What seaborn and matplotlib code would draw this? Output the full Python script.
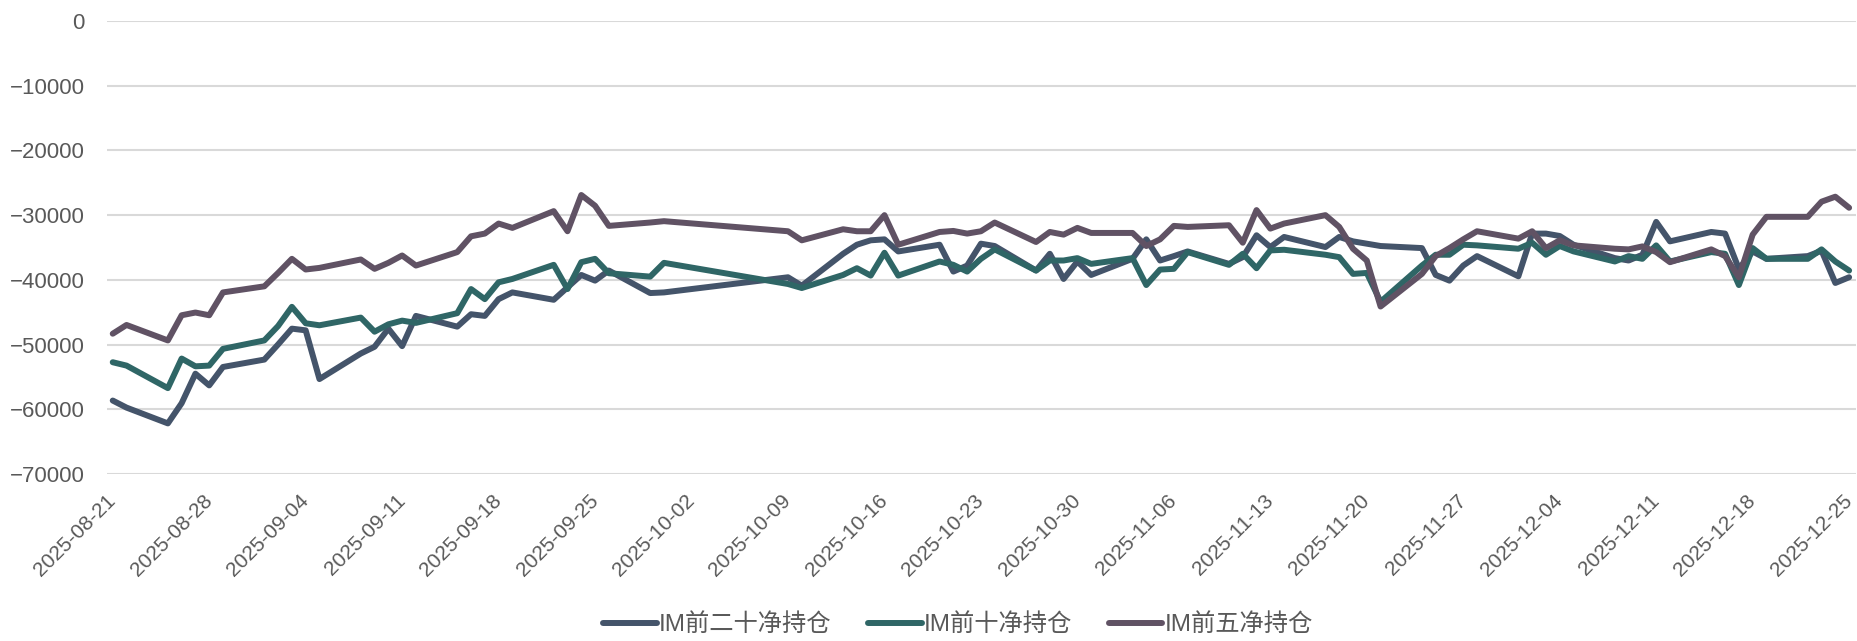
import pandas as pd
import numpy as np
import matplotlib.pyplot as plt
import matplotlib.dates as mdates
import seaborn as sns

# 交易日
dates = ["2025-08-21", "2025-08-22", "2025-08-25", "2025-08-26", "2025-08-27", "2025-08-28", "2025-08-29",
         "2025-09-01", "2025-09-02", "2025-09-03", "2025-09-04", "2025-09-05",
         "2025-09-08", "2025-09-09", "2025-09-10", "2025-09-11", "2025-09-12",
         "2025-09-15", "2025-09-16", "2025-09-17", "2025-09-18", "2025-09-19",
         "2025-09-22", "2025-09-23", "2025-09-24", "2025-09-25", "2025-09-26",
         "2025-09-29", "2025-09-30", "2025-10-09", "2025-10-10",
         "2025-10-13", "2025-10-14", "2025-10-15", "2025-10-16", "2025-10-17",
         "2025-10-20", "2025-10-21", "2025-10-22", "2025-10-23", "2025-10-24",
         "2025-10-27", "2025-10-28", "2025-10-29", "2025-10-30", "2025-10-31",
         "2025-11-03", "2025-11-04", "2025-11-05", "2025-11-06", "2025-11-07",
         "2025-11-10", "2025-11-11", "2025-11-12", "2025-11-13", "2025-11-14",
         "2025-11-17", "2025-11-18", "2025-11-19", "2025-11-20", "2025-11-21",
         "2025-11-24", "2025-11-25", "2025-11-26", "2025-11-27", "2025-11-28",
         "2025-12-01", "2025-12-02", "2025-12-03", "2025-12-04", "2025-12-05",
         "2025-12-08", "2025-12-09", "2025-12-10", "2025-12-11", "2025-12-12",
         "2025-12-15", "2025-12-16", "2025-12-17", "2025-12-18", "2025-12-19",
         "2025-12-22", "2025-12-23", "2025-12-24", "2025-12-25"]

top20 = [-58650, -59740, -62180, -59060, -54500, -56310, -53460,
         -52320, -49980, -47540, -47800, -55330,
         -51380, -50340, -47540, -50240, -45570,
         -47230, -45310, -45570, -42980, -41940,
         -43080, -41160, -39240, -40120, -38560,
         -42040, -41940, -39600, -40900,
         -35970, -34570, -33890, -33740, -35610,
         -34570, -38720, -37790, -34410, -34770,
         -38560, -35970, -39860, -37160, -39240,
         -36750, -33740, -37010, -36330, -35610,
         -37530, -36490, -33110, -34930, -33370,
         -34930, -33370, -34050, -34410, -34770,
         -35090, -39240, -40120, -37790, -36330,
         -39450, -32850, -32850, -33220, -34570,
         -36640, -37010, -36120, -31040, -34050,
         -32600, -32850, -38300, -35610, -36750,
         -36330, -35500, -40480, -39600]

top10 = [-52730, -53250, -56730, -52160, -53360, -53250, -50660,
         -49360, -47130, -44170, -46710, -47020,
         -45830, -48010, -46870, -46300, -46650,
         -45150, -41420, -42980, -40380, -39860,
         -37680, -41420, -37270, -36750, -38980,
         -39500, -37370, -40640, -41260,
         -39240, -38200, -39340, -35810, -39340,
         -37160, -37680, -38720, -36750, -35290,
         -38560, -37010, -37010, -36640, -37530,
         -36640, -40800, -38410, -38300, -35710,
         -37680, -35970, -38200, -35450, -35350,
         -36120, -36490, -39080, -38930, -43390,
         -37790, -36120, -36120, -34570, -34670,
         -35190, -34260, -36120, -34770, -35600,
         -37160, -36330, -36750, -34670, -37160,
         -35710, -35970, -40800, -35090, -36750,
         -36750, -35290, -37160, -38560]

top5 = [-48320, -46970, -49360, -45470, -45050, -45470, -41940,
        -41000, -38930, -36750, -38400, -38150,
        -36850, -38300, -37370, -36230, -37790,
        -35710, -33270, -32850, -31300, -31970,
        -29380, -32490, -26890, -28550, -31660,
        -31140, -30930, -32490, -33890,
        -32180, -32490, -32490, -30000, -34570,
        -32600, -32440, -32850, -32490, -31140,
        -34150, -32600, -33010, -31970, -32750,
        -32750, -34770, -33740, -31660, -31820,
        -31560, -34260, -29220, -32080, -31300,
        -30000, -31820, -35190, -37010, -44120,
        -39080, -36330, -35090, -33740, -32490,
        -33630, -32490, -35090, -33890, -34670,
        -35190, -35290, -34830, -35710, -37270,
        -35290, -36330, -39600, -33010, -30260,
        -30260, -27920, -27150, -28860]

labels = ["IM前二十净持仓", "IM前十净持仓", "IM前五净持仓"]
colors = ["#44546A", "#2F6666", "#605264"]

df = pd.DataFrame({"date": pd.to_datetime(dates), labels[0]: top20, labels[1]: top10, labels[2]: top5})

sns.set_style("white")
plt.rcParams["font.family"] = ["Liberation Sans", "Noto Sans CJK SC"]

fig = plt.figure(figsize=(18.57, 6.41), dpi=100)
ax = fig.add_axes([107 / 1857, 1 - 474 / 641, 1749 / 1857, 453 / 641])

for name, c in zip(labels, colors):
    sns.lineplot(data=df, x="date", y=name, color=c, linewidth=4.3, label=name, ax=ax)

ax.set_ylim(-70000, 0)
ax.set_yticks(np.arange(-70000, 1, 10000))
ax.set_xlim(pd.Timestamp("2025-08-20 14:00"), pd.Timestamp("2025-12-25 12:00"))
ticks = pd.date_range("2025-08-21", "2025-12-25", freq="7D")
ax.set_xticks(ticks)
ax.xaxis.set_major_formatter(mdates.DateFormatter("%Y-%m-%d"))
ax.grid(axis="y", color="#D9D9D9", linewidth=1.5)
ax.set_axisbelow(True)
for s in ax.spines.values():
    s.set_visible(False)
ax.set_xlabel("")
ax.set_ylabel("")
ax.tick_params(axis="y", labelsize=16, labelcolor="#595959", pad=16, length=0)
ax.tick_params(axis="x", labelsize=15, labelcolor="#595959", pad=17, length=0)
for t in ax.get_xticklabels():
    t.set_rotation(45)
    t.set_ha("right")
    t.set_rotation_mode("anchor")
    t.set_va("center")

ax.legend(loc="center", bbox_to_anchor=(958 / 1857, 1 - 625 / 641), bbox_transform=fig.transFigure,
          ncol=3, frameon=False, fontsize=17.5, handlelength=2.2, handletextpad=0.1, columnspacing=1.5,
          labelcolor="#595959")

plt.savefig("out.png", dpi=100)
